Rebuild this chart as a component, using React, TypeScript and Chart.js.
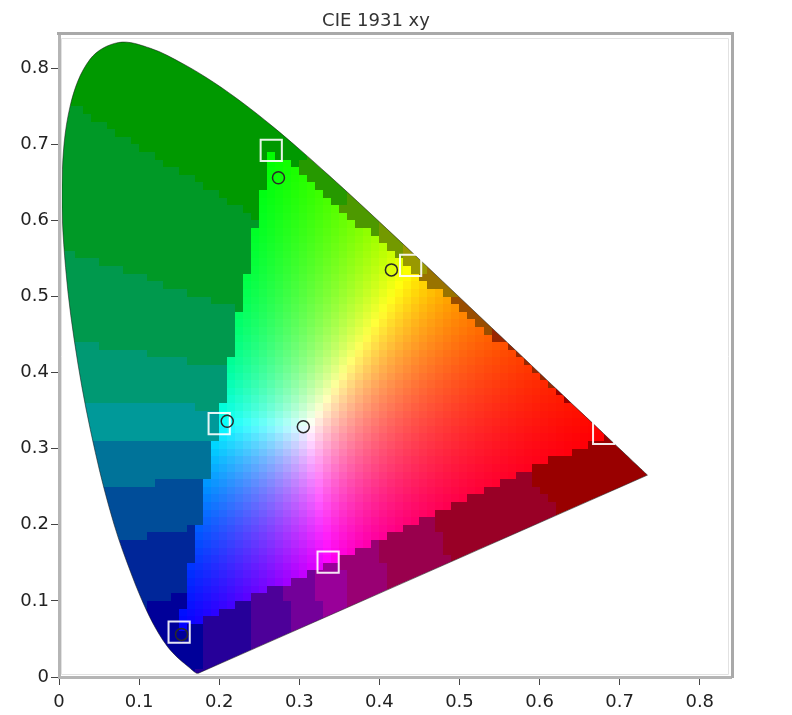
import React, { useEffect, useRef } from 'react';
import { Chart, registerables } from 'chart.js';

Chart.register(...registerables);

// CIE 1931 2° spectral locus, 380–700 nm in 5 nm steps
const wavelengths = [
  380, 385, 390, 395, 400, 405, 410, 415, 420, 425, 430, 435, 440, 445, 450, 455,
  460, 465, 470, 475, 480, 485, 490, 495, 500, 505, 510, 515, 520, 525, 530, 535,
  540, 545, 550, 555, 560, 565, 570, 575, 580, 585, 590, 595, 600, 605, 610, 615,
  620, 625, 630, 635, 640, 645, 650, 655, 660, 665, 670, 675, 680, 685, 690, 695, 700,
];
const locusX = [
  0.1741, 0.1740, 0.1738, 0.1736, 0.1733, 0.1730, 0.1726, 0.1721, 0.1714, 0.1703, 0.1689, 0.1669, 0.1644, 0.1611, 0.1566, 0.1510,
  0.1440, 0.1355, 0.1241, 0.1096, 0.0913, 0.0687, 0.0454, 0.0235, 0.0082, 0.0039, 0.0139, 0.0389, 0.0743, 0.1142, 0.1547, 0.1929,
  0.2296, 0.2658, 0.3016, 0.3373, 0.3731, 0.4087, 0.4441, 0.4788, 0.5125, 0.5448, 0.5752, 0.6029, 0.6270, 0.6482, 0.6658, 0.6801,
  0.6915, 0.7006, 0.7079, 0.7140, 0.7190, 0.7230, 0.7260, 0.7283, 0.7300, 0.7311, 0.7320, 0.7327, 0.7334, 0.7340, 0.7344, 0.7346, 0.7347,
];
const locusY = [
  0.0050, 0.0050, 0.0049, 0.0049, 0.0048, 0.0048, 0.0048, 0.0048, 0.0051, 0.0058, 0.0069, 0.0086, 0.0109, 0.0138, 0.0177, 0.0227,
  0.0297, 0.0399, 0.0578, 0.0868, 0.1327, 0.2007, 0.2950, 0.4127, 0.5384, 0.6548, 0.7502, 0.8120, 0.8338, 0.8262, 0.8059, 0.7816,
  0.7543, 0.7243, 0.6923, 0.6589, 0.6245, 0.5896, 0.5547, 0.5202, 0.4866, 0.4544, 0.4242, 0.3965, 0.3725, 0.3514, 0.3340, 0.3197,
  0.3083, 0.2993, 0.2920, 0.2859, 0.2809, 0.2770, 0.2740, 0.2717, 0.2700, 0.2689, 0.2680, 0.2673, 0.2666, 0.2660, 0.2656, 0.2654, 0.2653,
];

// Target primaries / secondaries (squares)
const targetNames = ['Red', 'Green', 'Blue', 'Cyan', 'Magenta', 'Yellow'];
const targetX = [0.680, 0.265, 0.150, 0.200, 0.336, 0.439];
const targetY = [0.320, 0.692, 0.059, 0.333, 0.151, 0.541];

// Measured points (circles)
const measuredNames = ['Green', 'Yellow', 'White', 'Cyan', 'Blue'];
const measuredX = [0.274, 0.415, 0.305, 0.210, 0.153];
const measuredY = [0.656, 0.535, 0.329, 0.336, 0.056];

const xTicks = [0, 0.1, 0.2, 0.3, 0.4, 0.5, 0.6, 0.7, 0.8];
const yTicks = [0, 0.1, 0.2, 0.3, 0.4, 0.5, 0.6, 0.7, 0.8];
const xMax = 0.839;
const yMax = 0.845;
const titleText = 'CIE 1931 xy';

// XYZ -> linear Display-P3 (D65)
const M = [
  [2.4934969, -0.9313836, -0.4027108],
  [-0.829489, 1.7626641, 0.0236247],
  [0.0358458, -0.0761724, 0.9568845],
];

function chromaColor(x: number, y: number): string {
  const yy = Math.max(y, 0.002);
  const X = x / yy;
  const Y = 1;
  const Z = (1 - x - yy) / yy;
  let r = M[0][0] * X + M[0][1] * Y + M[0][2] * Z;
  let g = M[1][0] * X + M[1][1] * Y + M[1][2] * Z;
  let b = M[2][0] * X + M[2][1] * Y + M[2][2] * Z;
  const mx = Math.max(r, g, b, 1e-6);
  const inGamut = Math.min(r, g, b) >= -0.004 * mx;
  r = Math.max(r, 0) / mx;
  g = Math.max(g, 0) / mx;
  b = Math.max(b, 0) / mx;
  if (!inGamut) {
    const q = (v: number) => (Math.round(v * 4) / 4) * 0.6;
    r = q(r);
    g = q(g);
    b = q(b);
  }
  return `rgb(${Math.round(r * 255)},${Math.round(g * 255)},${Math.round(b * 255)})`;
}

const LOCUS_INDEX = 2;

const chromaFill = {
  id: 'chromaFill',
  beforeDatasetsDraw(chart: any) {
    const { ctx, chartArea } = chart;
    const xs = chart.scales.x;
    const ys = chart.scales.y;
    ctx.save();
    ctx.beginPath();
    ctx.rect(chartArea.left, chartArea.top, chartArea.right - chartArea.left, chartArea.bottom - chartArea.top);
    ctx.clip();
    ctx.beginPath();
    const meta = chart.getDatasetMeta(LOCUS_INDEX);
    let ok = false;
    try {
      if (meta && meta.dataset && typeof meta.dataset.path === 'function') {
        meta.dataset.updateControlPoints && meta.dataset.updateControlPoints(chartArea, 'x');
        meta.dataset.path(ctx);
        ok = true;
      }
    } catch (e) {
      ok = false;
    }
    if (!ok) {
      ctx.beginPath();
      locusX.forEach((vx, i) => {
        const px = xs.getPixelForValue(vx);
        const py = ys.getPixelForValue(locusY[i]);
        if (i === 0) ctx.moveTo(px, py);
        else ctx.lineTo(px, py);
      });
    }
    ctx.closePath();
    ctx.clip();
    const step = 0.01;
    const nx = Math.ceil(Math.max(...locusX) / step) + 1;
    const ny = Math.ceil(Math.max(...locusY) / step) + 1;
    for (let i = 0; i < nx; i++) {
      const gx0 = i * step;
      const gx1 = (i + 1) * step;
      const x0 = Math.round(xs.getPixelForValue(gx0));
      const x1 = Math.round(xs.getPixelForValue(gx1));
      for (let j = 0; j < ny; j++) {
        const gy0 = j * step;
        const gy1 = (j + 1) * step;
        const y0 = Math.round(ys.getPixelForValue(gy1));
        const y1 = Math.round(ys.getPixelForValue(gy0));
        ctx.fillStyle = chromaColor(gx0 + step / 2, gy0 + step / 2);
        ctx.fillRect(x0, y0, x1 - x0, y1 - y0);
      }
    }
    ctx.restore();
  },
};

const frameAndTitle = {
  id: 'frameAndTitle',
  afterDraw(chart: any) {
    const { ctx, chartArea } = chart;
    const { left, right, top, bottom } = chartArea;
    ctx.save();
    // outer frame (top / right)
    ctx.strokeStyle = '#a9a9a9';
    ctx.lineWidth = 3;
    ctx.beginPath();
    ctx.moveTo(left - 2, top - 0.5);
    ctx.lineTo(right + 1.5, top - 0.5);
    ctx.lineTo(right + 1.5, bottom + 1);
    ctx.stroke();
    // inner light frame
    ctx.strokeStyle = '#e2e2e2';
    ctx.lineWidth = 1;
    ctx.beginPath();
    ctx.moveTo(left + 2.5, bottom - 2.5);
    ctx.lineTo(left + 2.5, top + 4.5);
    ctx.lineTo(right - 2.5, top + 4.5);
    ctx.lineTo(right - 2.5, bottom - 2.5);
    ctx.lineTo(left + 2.5, bottom - 2.5);
    ctx.stroke();
    // title
    ctx.fillStyle = '#333333';
    ctx.font = '18px "DejaVu Sans"';
    ctx.textAlign = 'center';
    ctx.textBaseline = 'alphabetic';
    ctx.fillText(titleText, (left + right) / 2 - 19, 26);
    ctx.restore();
  },
};

const fmt = (v: number) => (v === 0 ? '0' : v.toFixed(1));

export default function App() {
  const ref = useRef<HTMLCanvasElement | null>(null);
  useEffect(() => {
    if (!ref.current) return;
    const locusData = locusX.map((x, i) => ({ x, y: locusY[i], nm: wavelengths[i] }));
    locusData.push({ x: locusX[0], y: locusY[0], nm: wavelengths[0] });
    const chart = new Chart(ref.current, {
      type: 'scatter',
      data: {
        datasets: [
          {
            label: 'Measured',
            data: measuredX.map((x, i) => ({ x, y: measuredY[i], name: measuredNames[i] })),
            pointStyle: 'circle',
            pointRadius: 6,
            borderColor: '#2a2a2a',
            borderWidth: 1.5,
            backgroundColor: 'rgba(0,0,0,0)',
          } as any,
          {
            label: 'Target',
            data: targetX.map((x, i) => ({ x, y: targetY[i], name: targetNames[i] })),
            pointStyle: 'rect',
            pointRadius: 15,
            borderColor: 'rgba(255,255,255,0.9)',
            borderWidth: 2,
            backgroundColor: 'rgba(0,0,0,0)',
          } as any,
          {
            label: 'Spectral locus',
            data: locusData,
            showLine: true,
            tension: 0.35,
            borderColor: 'rgba(25,25,25,0.55)',
            borderWidth: 1,
            pointRadius: 0,
            fill: false,
          } as any,
        ],
      },
      options: {
        responsive: false,
        animation: false,
        devicePixelRatio: 1,
        layout: { padding: { top: 34, right: 61, left: 0, bottom: 0 } },
        plugins: {
          legend: { display: false },
          tooltip: { enabled: false },
          title: { display: false },
        },
        scales: {
          x: {
            type: 'linear',
            min: 0,
            max: xMax,
            afterBuildTicks: (s: any) => {
              s.ticks = xTicks.map((v) => ({ value: v }));
            },
            afterFit: (s: any) => {
              s.height = 38;
            },
            ticks: {
              autoSkip: false,
              maxRotation: 0,
              padding: 7,
              color: '#222',
              font: { family: '"DejaVu Sans"', size: 18 },
              callback: (v: any) => fmt(Number(v)),
            },
            grid: { display: true, drawOnChartArea: false, drawTicks: true, tickLength: 8, color: '#444', lineWidth: 1 },
            border: { display: true, color: '#b5b5b5', width: 3 },
          },
          y: {
            type: 'linear',
            min: 0,
            max: yMax,
            afterBuildTicks: (s: any) => {
              s.ticks = yTicks.map((v) => ({ value: v }));
            },
            afterFit: (s: any) => {
              s.width = 59;
            },
            ticks: {
              autoSkip: false,
              padding: 2,
              color: '#222',
              font: { family: '"DejaVu Sans"', size: 18 },
              callback: (v: any) => fmt(Number(v)),
            },
            grid: { display: true, drawOnChartArea: false, drawTicks: true, tickLength: 8, color: '#444', lineWidth: 1 },
            border: { display: true, color: '#b5b5b5', width: 3 },
          },
        },
      },
      plugins: [chromaFill, frameAndTitle],
    } as any);
    return () => chart.destroy();
  }, []);
  return (
    <div style={{ position: 'absolute', left: 0, top: 0, width: 792, height: 715, background: '#fff' }}>
      <canvas ref={ref} width={792} height={715} style={{ display: 'block' }} />
    </div>
  );
}
